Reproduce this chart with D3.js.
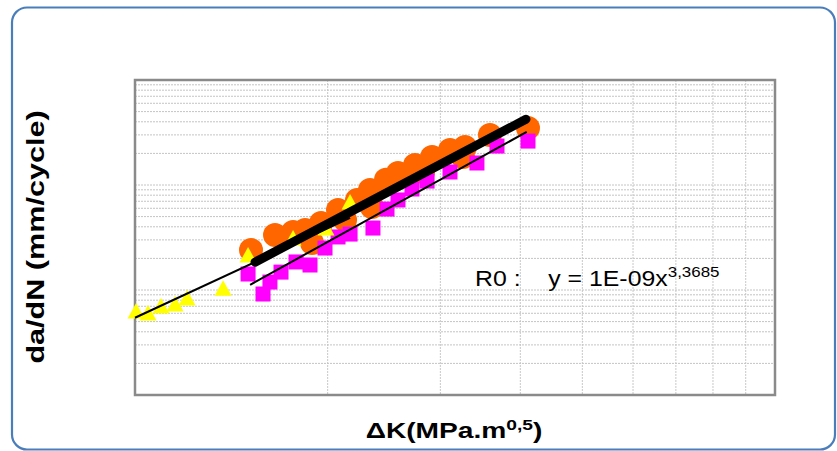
<!DOCTYPE html>
<html><head><meta charset="utf-8">
<script src="https://cdn.jsdelivr.net/npm/d3@7"></script>
<style>html,body{margin:0;padding:0;background:#fff}svg{display:block}</style>
</head><body>
<svg id="c" width="837" height="451"></svg>
<script>
// ΔK (MPa.m^0.5) and da/dN (mm/cycle)
const orangeK = [15.18,16.55,17.66,18.44,18.91,19.53,20.76,21.29,22.23,23.29,23.45,24.67,25.76,27.39,28.18,29.12,31.06,32.54,32.78,35.86,41.12];
const orangeDadN = [2.40e-5,3.34e-5,3.57e-5,3.73e-5,2.80e-5,4.35e-5,5.78e-5,4.64e-5,7.20e-5,8.96e-5,6.17e-5,1.12e-4,1.30e-4,1.55e-4,1.33e-4,1.85e-4,2.16e-4,1.85e-4,2.30e-4,2.99e-4,3.49e-4];
const magentaK = [15.02,15.85,16.25,16.91,17.85,18.77,19.81,20.76,21.68,23.54,24.76,25.76,27.09,28.60,31.06,34.22,36.78,41.12];
const magentaDadN = [1.42e-5,9.16e-6,1.19e-5,1.48e-5,1.85e-5,1.73e-5,2.51e-5,3.20e-5,3.41e-5,3.89e-5,5.90e-5,7.20e-5,9.16e-5,1.09e-4,1.33e-4,1.62e-4,2.35e-4,2.62e-4];
const yellowK = [10.04,10.48,10.98,11.55,12.06,13.73,15.02,17.66,19.88,21.68];
const yellowDadN = [6.31e-6,6.04e-6,7.04e-6,7.36e-6,8.39e-6,1.04e-5,2.16e-5,3.13e-5,3.89e-5,6.89e-5];
// power-law trend lines: [coefficient, exponent, Kmin, Kmax]
const fitYellow = [8.05e-9, 2.83, 10.0, 21.68];
const fitOrange = [2.80e-9, 3.215, 15.40, 40.82];
const fitMagenta = [1.19e-9, 3.3685, 15.13, 40.93];
const xDomain = [10, 100];
const yDomain = [1e-6, 1e-3];
const eqLabel = "R0 :    y = 1E-09x";
const eqExp = "3,3685";

const FONT = "Liberation Sans, Arial, sans-serif";
const svg = d3.select("#c");
const L = 135, R = 775, T = 80, B = 395;
const x = d3.scaleLog().domain(xDomain).range([L, R]);
const y = d3.scaleLog().domain(yDomain).range([B, T]);

// outer rounded frame
svg.append("rect").attr("x", 12).attr("y", 7.5).attr("width", 823).attr("height", 442)
  .attr("rx", 15).attr("fill", "#fff").attr("stroke", "#4a7ebb").attr("stroke-width", 2.2);

// grid
function logTicks(d0, d1) {
  const out = [];
  for (let e = Math.round(Math.log10(d0)); e < Math.round(Math.log10(d1)); e++)
    for (let m = 1; m <= 9; m++) out.push(m * Math.pow(10, e));
  out.push(d1);
  return out;
}
const g = svg.append("g");
g.selectAll("line.gx").data(logTicks(...xDomain)).join("line")
  .attr("x1", d => x(d)).attr("x2", d => x(d)).attr("y1", T).attr("y2", B)
  .attr("stroke", "#c8c8c8").attr("stroke-width", 1).attr("stroke-dasharray", "2,1");
g.selectAll("line.gy").data(logTicks(...yDomain)).join("line")
  .attr("y1", d => y(d)).attr("y2", d => y(d)).attr("x1", L).attr("x2", R)
  .attr("stroke", "#c4c4c4").attr("stroke-width", 1).attr("stroke-dasharray", "2,1");

// plot frame
svg.append("rect").attr("x", L).attr("y", T).attr("width", R - L).attr("height", B - T)
  .attr("fill", "none").attr("stroke", "#8a8a8a").attr("stroke-width", 2.5);

const plot = svg.append("g");
// orange circles
plot.selectAll("circle").data(d3.zip(orangeK, orangeDadN)).join("circle")
  .attr("cx", d => x(d[0])).attr("cy", d => y(d[1])).attr("r", 12).attr("fill", "#FF6600");
// magenta squares
plot.selectAll("rect.m").data(d3.zip(magentaK, magentaDadN)).join("rect").attr("class", "m")
  .attr("x", d => x(d[0]) - 7.5).attr("y", d => y(d[1]) - 7.5).attr("width", 15).attr("height", 15)
  .attr("fill", "#FF00FF");
// yellow triangles
const triPath = "M0,-8L8.5,7.5L-8.5,7.5Z";
plot.selectAll("path.t").data(d3.zip(yellowK, yellowDadN)).join("path").attr("class", "t")
  .attr("d", triPath).attr("transform", d => `translate(${x(d[0])},${y(d[1])})`)
  .attr("fill", "#FFFF00");

// trend lines
function fitLine(f) {
  const ks = [f[2], f[3]];
  return d3.line().x(k => x(k)).y(k => y(f[0] * Math.pow(k, f[1])))(ks);
}
plot.append("path").attr("d", fitLine(fitYellow)).attr("stroke", "#000").attr("stroke-width", 2).attr("fill", "none");
plot.append("path").attr("d", fitLine(fitMagenta)).attr("stroke", "#000").attr("stroke-width", 2).attr("fill", "none");
plot.append("path").attr("d", fitLine(fitOrange)).attr("stroke", "#000").attr("stroke-width", 9)
  .attr("stroke-linecap", "round").attr("fill", "none");

// equation label
const eq = svg.append("text").attr("transform", "translate(475,286) scale(1.13,1)")
  .attr("font-family", FONT).attr("font-size", 22).attr("fill", "#000")
  .attr("xml:space", "preserve").style("white-space", "pre");
eq.append("tspan").text(eqLabel);
eq.append("tspan").attr("dy", -9).attr("font-size", 15).text(eqExp);

// axis titles
const xt = svg.append("text").attr("transform", "translate(454,438) scale(1.28,1)").attr("text-anchor", "middle")
  .attr("font-family", FONT).attr("font-weight", "bold").attr("font-size", 22);
xt.append("tspan").text("ΔK(MPa.m");
xt.append("tspan").attr("dy", -8).attr("font-size", 15).text("0,5");
xt.append("tspan").attr("dy", 8).text(")");

svg.append("text").attr("transform", "translate(44,237) rotate(-90) scale(1.33,1)").attr("text-anchor", "middle")
  .attr("font-family", FONT).attr("font-weight", "bold").attr("font-size", 23)
  .text("da/dN (mm/cycle)");
</script>
</body></html>
